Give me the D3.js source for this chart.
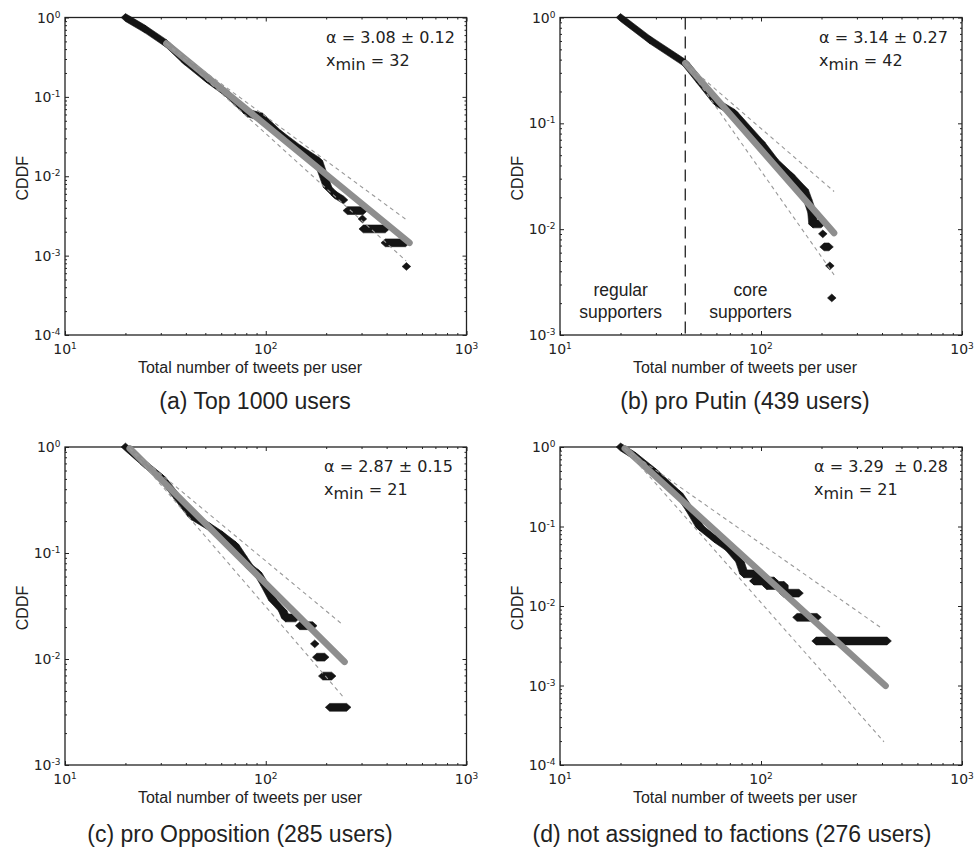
<!DOCTYPE html>
<html>
<head>
<meta charset="utf-8">
<script src="https://cdn.jsdelivr.net/npm/d3@7"></script>
<style>
  body { margin: 0; background: #fff; }
  svg { display: block; }
  text { fill: #222; }
</style>
</head>
<body>
<svg id="chart" width="974" height="848"></svg>
<script>
// tick values (log axes)
const xMajor = [10, 100, 1000];
const xMinor = [20, 30, 40, 50, 60, 70, 80, 90, 200, 300, 400, 500, 600, 700, 800, 900];

// empirical CDDF, null = gap between runs
const tweetsA = [20, 25, 32, 39.7, 51, 62.8, 81, 96, 118, 148.6, 183, 191, 203, 222, 244, null, 255, 306, null, 303, null, 306, 394, null, 394, 497, null, 502];
const cddfA = [1.0, 0.717, 0.47, 0.28, 0.168, 0.115, 0.0627, 0.0558, 0.0341, 0.022, 0.0156, 0.0113, 0.00733, 0.00582, 0.00503, null, 0.00369, 0.00369, null, 0.0029, null, 0.00217, 0.00217, null, 0.00145, 0.00145, null, 0.00073];

const tweetsB = [20, 28, 42, 49.8, 60.4, 73.4, 100, 116, 141, 164, 171, 179.5, 181.5, 199, null, 203, null, 206, 218, null, 220, null, 225];
const cddfB = [1.0, 0.615, 0.37, 0.247, 0.156, 0.1256, 0.0654, 0.0452, 0.0319, 0.0235, 0.0189, 0.0143, 0.0112, 0.0112, null, 0.00903, null, 0.0068, 0.0068, null, 0.0045, null, 0.00224];

const tweetsC = [20, 25, 30.4, 36.5, 42.8, 52.6, 60.4, 70.2, 76.9, 83.2, 91.2, 98.9, 108.4, 121.6, 125.8, 141, null, 147.6, 171.4, null, 175.4, null, 179.5, 196.7, null, 192.3, 213, null, 208, 253];
const cddfC = [1.0, 0.69, 0.51, 0.33, 0.223, 0.176, 0.148, 0.119, 0.0917, 0.0738, 0.0647, 0.0499, 0.036, 0.0284, 0.0244, 0.0244, null, 0.0206, 0.0206, null, 0.0139, null, 0.0104, 0.0104, null, 0.0069, 0.0069, null, 0.0035, 0.0035];

const tweetsD = [20, 23.6, 29.7, 39.1, 44.3, 49.7, 59.1, 68.5, 78.7, 82.3, 100, 92.3, 116, 107, 130, 130, 154.6, null, 151, 190, null, 188, 424];
const cddfD = [1.0, 0.77, 0.485, 0.256, 0.161, 0.0986, 0.0696, 0.0537, 0.0357, 0.0254, 0.0254, 0.0206, 0.0206, 0.0181, 0.0181, 0.0145, 0.0145, null, 0.0072, 0.0072, null, 0.00363, 0.00363];

// power-law fit (solid) and +/- error lines (dashed), endpoints
const fitXA = [32, 520], fitYA = [0.47, 0.00145];
const upXA = [32, 505], upYA = [0.47, 0.0028];
const loXA = [32, 500], loYA = [0.47, 0.00086];

const fitXB = [42, 231], fitYB = [0.37, 0.0092];
const upXB = [42, 231], upYB = [0.37, 0.0227];
const loXB = [42, 231], loYB = [0.37, 0.0037];

const fitXC = [21, 247], fitYC = [0.97, 0.0094];
const upXC = [21, 243], upYC = [0.97, 0.0209];
const loXC = [21, 243], loYC = [0.97, 0.0044];

const fitXD = [21, 417], fitYD = [0.96, 0.00099];
const upXD = [21, 401], upYD = [0.96, 0.0052];
const loXD = [21, 409], loYD = [0.96, 0.000196];

const alphas = ["α = 3.08 ± 0.12", "α = 3.14 ± 0.27", "α = 2.87 ± 0.15", "α = 3.29  ± 0.28"];
const xmins = ["32", "42", "21", "21"];
const titles = ["(a) Top 1000 users", "(b) pro Putin (439 users)", "(c) pro Opposition (285 users)", "(d) not assigned to factions (276 users)"];

const panels = [
  { left: 65, top: 17.5, right: 466.5, bottom: 335, yMin: 1e-4, tx: tweetsA, ty: cddfA,
    fit: [fitXA, fitYA], up: [upXA, upYA], lo: [loXA, loYA], ax: 326, titleX: 255, titleY: 409 },
  { left: 560, top: 17.5, right: 962, bottom: 335, yMin: 1e-3, tx: tweetsB, ty: cddfB,
    fit: [fitXB, fitYB], up: [upXB, upYB], lo: [loXB, loYB], ax: 819, titleX: 745, titleY: 409, split: 42 },
  { left: 65, top: 447, right: 466.5, bottom: 765, yMin: 1e-3, tx: tweetsC, ty: cddfC,
    fit: [fitXC, fitYC], up: [upXC, upYC], lo: [loXC, loYC], ax: 324, titleX: 240, titleY: 842 },
  { left: 560, top: 447, right: 962, bottom: 765, yMin: 1e-4, tx: tweetsD, ty: cddfD,
    fit: [fitXD, fitYD], up: [upXD, upYD], lo: [loXD, loYD], ax: 814, titleX: 732, titleY: 842 }
];

const svg = d3.select("#chart");
const MW = 4.3, MH = 3.9; // diamond marker half sizes

function diamond([px, py]) {
  return [[px - MW, py], [px, py - MH], [px + MW, py], [px, py + MH]];
}

function drawTicks(g, axisFn, scale, vals, size, tr) {
  g.append("g").attr("transform", tr)
    .call(axisFn(scale).tickValues(vals).tickSize(-size).tickFormat(""))
    .call(a => a.select(".domain").remove())
    .selectAll("line").attr("stroke", "#222").attr("stroke-width", 1);
}

function powLabel(g, px, py, exp, anchor) {
  const t = g.append("text")
    .attr("x", px).attr("y", py)
    .attr("text-anchor", anchor)
    .style("font-family", "'DejaVu Sans', sans-serif")
    .style("font-size", "14px");
  t.append("tspan").text("10");
  t.append("tspan").attr("dy", -5).style("font-size", "9px").text(exp);
}

panels.forEach((p, i) => {
  const g = svg.append("g");
  const x = d3.scaleLog().domain([10, 1000]).range([p.left, p.right]);
  const y = d3.scaleLog().domain([p.yMin, 1]).range([p.bottom, p.top]);
  const yMajor = d3.range(Math.round(Math.log10(p.yMin)), 1).map(e => Math.pow(10, e));
  const yMinor = [];
  yMajor.slice(0, -1).forEach(d => { for (let k = 2; k < 10; k++) yMinor.push(d * k); });

  // ticks on all four sides, pointing inwards
  drawTicks(g, d3.axisBottom, x, xMajor, 4, `translate(0,${p.bottom})`);
  drawTicks(g, d3.axisBottom, x, xMinor, 2, `translate(0,${p.bottom})`);
  drawTicks(g, d3.axisTop, x, xMajor, 4, `translate(0,${p.top})`);
  drawTicks(g, d3.axisTop, x, xMinor, 2, `translate(0,${p.top})`);
  drawTicks(g, d3.axisLeft, y, yMajor, 4, `translate(${p.left},0)`);
  drawTicks(g, d3.axisLeft, y, yMinor, 2, `translate(${p.left},0)`);
  drawTicks(g, d3.axisRight, y, yMajor, 4, `translate(${p.right},0)`);
  drawTicks(g, d3.axisRight, y, yMinor, 2, `translate(${p.right},0)`);

  g.append("rect")
    .attr("x", p.left).attr("y", p.top)
    .attr("width", p.right - p.left).attr("height", p.bottom - p.top)
    .attr("fill", "none").attr("stroke", "#222").attr("stroke-width", 1.3);

  xMajor.forEach(v => powLabel(g, x(v), p.bottom + 19, Math.round(Math.log10(v)), "middle"));
  yMajor.forEach(v => powLabel(g, p.left - 4.5, y(v) + 5, Math.round(Math.log10(v)), "end"));

  // split marker for pro Putin panel
  if (p.split) {
    g.append("line")
      .attr("x1", x(p.split)).attr("x2", x(p.split))
      .attr("y1", p.top).attr("y2", p.bottom)
      .attr("stroke", "#222").attr("stroke-width", 1.3)
      .attr("stroke-dasharray", "12,7");
    const lab = (txt, cx, cy) => g.append("text").attr("x", cx).attr("y", cy)
      .attr("text-anchor", "middle")
      .style("font-family", "'Liberation Sans', Arial, sans-serif")
      .style("font-size", "17.5px").text(txt);
    lab("regular", 620.7, 295.5);
    lab("supporters", 620.7, 317.5);
    lab("core", 750.5, 295.5);
    lab("supporters", 750.5, 317.5);
  }

  // empirical data: diamond markers swept along each run
  const runs = [];
  let cur = [];
  p.tx.forEach((v, k) => {
    if (v === null) { if (cur.length) runs.push(cur); cur = []; }
    else cur.push([x(v), y(p.ty[k])]);
  });
  if (cur.length) runs.push(cur);
  const polys = [];
  runs.forEach(run => {
    if (run.length === 1) polys.push(diamond(run[0]));
    else for (let k = 1; k < run.length; k++) {
      polys.push(d3.polygonHull(diamond(run[k - 1]).concat(diamond(run[k]))));
    }
  });
  g.append("g").selectAll("path")
    .data(polys)
    .join("path")
    .attr("d", d => "M" + d.join("L") + "Z")
    .attr("fill", "#141414")
    .attr("stroke", "#141414")
    .attr("stroke-width", 0.6)
    .attr("stroke-linejoin", "round");

  const line = d3.line().x(d => x(d[0])).y(d => y(d[1]));
  const pts = arr => arr[0].map((v, k) => [v, arr[1][k]]);

  g.append("path")
    .attr("d", line(pts(p.fit)))
    .attr("fill", "none")
    .attr("stroke", "#8e8e8e")
    .attr("stroke-width", 6.5)
    .attr("stroke-linecap", "round");

  [p.up, p.lo].forEach(l => {
    g.append("path")
      .attr("d", line(pts(l)))
      .attr("fill", "none")
      .attr("stroke", "#999")
      .attr("stroke-width", 1.1)
      .attr("stroke-dasharray", "4,3.5");
  });

  // fit annotation
  g.append("text")
    .attr("x", p.ax).attr("y", p.top + 25)
    .style("font-family", "'DejaVu Sans', sans-serif")
    .style("font-size", "16px")
    .style("white-space", "pre")
    .text(alphas[i]);
  const xm = g.append("text")
    .attr("x", p.ax).attr("y", p.top + 48)
    .style("font-family", "'DejaVu Sans', sans-serif")
    .style("font-size", "16px");
  xm.append("tspan").text("x");
  xm.append("tspan").attr("dy", 4).text("min");
  xm.append("tspan").attr("dy", -4).style("white-space", "pre").text(" = " + xmins[i]);

  // axis labels
  g.append("text")
    .attr("x", p.left + 185).attr("y", p.bottom + 38)
    .attr("text-anchor", "middle")
    .style("font-family", "'Liberation Sans', Arial, sans-serif")
    .style("font-size", "16px")
    .text("Total number of tweets per user");

  g.append("text")
    .attr("transform", `translate(${p.left - 37},${(p.top + p.bottom) / 2 + 2}) rotate(-90)`)
    .attr("text-anchor", "middle")
    .style("font-family", "'Liberation Sans', Arial, sans-serif")
    .style("font-size", "16px")
    .text("CDDF");

  g.append("text")
    .attr("x", p.titleX).attr("y", p.titleY)
    .attr("text-anchor", "middle")
    .style("font-family", "'Liberation Sans', Arial, sans-serif")
    .style("font-size", "23px")
    .text(titles[i]);
});
</script>
</body>
</html>
